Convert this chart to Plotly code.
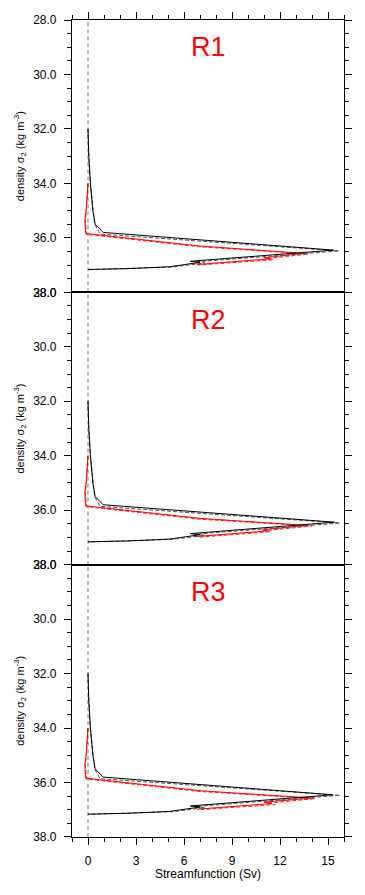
import plotly.graph_objects as go

# ---------------- data ----------------
panel_labels = ["R1", "R2", "R3"]

x_ticks = [0, 3, 6, 9, 12, 15]
y_ticks = [28.0, 30.0, 32.0, 34.0, 36.0, 38.0]

# R1
sig_r1_black_solid = [32.0, 33.0, 34.0, 35.0, 35.5, 35.8, 36.45, 36.58, 36.76, 36.86, 36.9, 37.06, 37.13, 37.16]
psi_r1_black_solid = [0.0, 0.05, 0.15, 0.3, 0.45, 0.95, 15.35, 12.5, 8.5, 6.4, 7.0, 5.1, 2.5, 0.0]
sig_r1_black_dash = [32.0, 33.0, 34.0, 35.0, 35.5, 35.86, 36.48, 36.88, 36.92, 37.07, 37.13, 37.17]
psi_r1_black_dash = [0.0, 0.05, 0.15, 0.3, 0.42, 0.75, 15.7, 6.7, 7.3, 5.3, 2.6, 0.0]
sig_r1_red_solid = [34.0, 34.5, 35.0, 35.35, 35.84, 36.3, 36.57, 36.73, 36.77, 36.8, 36.98]
psi_r1_red_solid = [0.0, -0.05, -0.12, -0.2, -0.15, 7.0, 13.5, 11.0, 11.4, 10.7, 6.8]
sig_r1_red_dash = [34.0, 34.5, 35.0, 35.35, 35.87, 36.33, 36.59, 36.76, 36.8, 36.83, 37.0]
psi_r1_red_dash = [0.0, -0.03, -0.1, -0.17, -0.1, 7.0, 13.8, 11.2, 11.6, 10.9, 6.9]

# R2
sig_r2_black_solid = [32.0, 33.0, 34.0, 35.0, 35.5, 35.8, 36.44, 36.58, 36.76, 36.86, 36.9, 37.06, 37.13, 37.16]
psi_r2_black_solid = [0.0, 0.05, 0.15, 0.3, 0.45, 0.95, 15.4, 12.5, 8.5, 6.4, 7.0, 5.1, 2.5, 0.0]
sig_r2_black_dash = [32.0, 33.0, 34.0, 35.0, 35.5, 35.86, 36.47, 36.88, 36.92, 37.07, 37.13, 37.17]
psi_r2_black_dash = [0.0, 0.05, 0.15, 0.3, 0.42, 0.75, 15.75, 6.7, 7.3, 5.3, 2.6, 0.0]
sig_r2_red_solid = [34.0, 34.5, 35.0, 35.35, 35.84, 36.3, 36.56, 36.72, 36.76, 36.79, 36.97]
psi_r2_red_solid = [0.0, -0.05, -0.12, -0.2, -0.15, 7.0, 13.7, 10.9, 11.2, 10.6, 6.7]
sig_r2_red_dash = [34.0, 34.5, 35.0, 35.35, 35.87, 36.33, 36.58, 36.75, 36.79, 36.82, 36.99]
psi_r2_red_dash = [0.0, -0.03, -0.1, -0.17, -0.1, 7.0, 14.0, 11.1, 11.4, 10.8, 6.9]

# R3
sig_r3_black_solid = [32.0, 33.0, 34.0, 35.0, 35.5, 35.8, 36.45, 36.58, 36.76, 36.86, 36.9, 37.06, 37.13, 37.16]
psi_r3_black_solid = [0.0, 0.05, 0.15, 0.3, 0.45, 0.95, 15.3, 12.5, 8.5, 6.4, 7.0, 5.1, 2.5, 0.0]
sig_r3_black_dash = [32.0, 33.0, 34.0, 35.0, 35.5, 35.86, 36.47, 36.88, 36.92, 37.07, 37.13, 37.17]
psi_r3_black_dash = [0.0, 0.05, 0.15, 0.3, 0.42, 0.75, 15.75, 6.7, 7.3, 5.3, 2.6, 0.0]
sig_r3_red_solid = [34.0, 34.5, 35.0, 35.35, 35.84, 36.3, 36.57, 36.72, 36.77, 36.8, 36.98]
psi_r3_red_solid = [0.0, -0.05, -0.12, -0.2, -0.15, 7.0, 14.0, 11.0, 11.5, 10.8, 6.8]
sig_r3_red_dash = [34.0, 34.5, 35.0, 35.35, 35.87, 36.33, 36.59, 36.76, 36.81, 36.84, 37.0]
psi_r3_red_dash = [0.0, -0.03, -0.1, -0.17, -0.1, 7.0, 14.2, 11.2, 11.7, 10.9, 6.9]

panels = [
    (sig_r1_black_solid, psi_r1_black_solid, sig_r1_black_dash, psi_r1_black_dash,
     sig_r1_red_solid, psi_r1_red_solid, sig_r1_red_dash, psi_r1_red_dash),
    (sig_r2_black_solid, psi_r2_black_solid, sig_r2_black_dash, psi_r2_black_dash,
     sig_r2_red_solid, psi_r2_red_solid, sig_r2_red_dash, psi_r2_red_dash),
    (sig_r3_black_solid, psi_r3_black_solid, sig_r3_black_dash, psi_r3_black_dash,
     sig_r3_red_solid, psi_r3_red_solid, sig_r3_red_dash, psi_r3_red_dash),
]

# ---------------- figure ----------------
FONT = "Liberation Sans, Arial, Helvetica, sans-serif"
fig = go.Figure()

domains = [[2/3, 1.0], [1/3, 2/3], [0.0, 1/3]]

for i, (sbs, pbs, sbd, pbd, srs, prs, srd, prd) in enumerate(panels):
    xa = "x" if i == 0 else f"x{i+1}"
    ya = "y" if i == 0 else f"y{i+1}"
    fig.add_trace(go.Scatter(x=prd, y=srd, mode="lines", xaxis=xa, yaxis=ya,
                             line=dict(color="#ff2020", width=1, dash="4px,2px"), showlegend=False))
    fig.add_trace(go.Scatter(x=prs, y=srs, mode="lines", xaxis=xa, yaxis=ya,
                             line=dict(color="#ff0000", width=1), showlegend=False))
    fig.add_trace(go.Scatter(x=pbd, y=sbd, mode="lines", xaxis=xa, yaxis=ya,
                             line=dict(color="#505050", width=1, dash="4px,2px"), showlegend=False))
    fig.add_trace(go.Scatter(x=pbs, y=sbs, mode="lines", xaxis=xa, yaxis=ya,
                             line=dict(color="#000000", width=1), showlegend=False))

    fig.add_shape(type="line", xref=xa, yref=f"{ya} domain", x0=0, x1=0, y0=0, y1=1,
                  line=dict(color="#222222", width=0.6, dash="4px,3px"))

    fig.add_annotation(text=panel_labels[i], xref=f"{xa} domain", yref=ya, x=0.5, y=29.0,
                       showarrow=False, font=dict(family=FONT, size=27, color="#ff0000"))

    xkw = dict(range=[-1, 16], tickvals=x_ticks, showline=True, linecolor="black", linewidth=1.2,
               mirror=True, showgrid=False, zeroline=False, anchor=ya, automargin=False,
               tickfont=dict(family=FONT, size=12, color="black"),
               ticklen=7, tickwidth=1, tickcolor="black")
    if i == 0:
        xkw.update(side="top", ticks="outside", showticklabels=False,
                   minor=dict(ticks="outside", dtick=1, tick0=0, ticklen=4, tickcolor="black"))
    elif i == 2:
        xkw.update(side="bottom", ticks="outside", showticklabels=True, ticklabelstandoff=5,
                   title=dict(text="Streamfunction (Sv)", font=dict(family=FONT, size=12, color="black"),
                              standoff=2),
                   minor=dict(ticks="outside", dtick=1, tick0=0, ticklen=4, tickcolor="black"))
    else:
        xkw.update(ticks="", showticklabels=False)

    ykw = dict(range=[38, 28], domain=domains[i], tickvals=y_ticks, tickformat=".1f",
               showline=True, linecolor="black", linewidth=1.2, mirror="ticks",
               ticks="outside", ticklen=7, tickwidth=1, tickcolor="black", ticklabelstandoff=5,
               minor=dict(ticks="outside", dtick=0.5, tick0=28, ticklen=4, tickcolor="black"),
               showgrid=False, zeroline=False, anchor=xa, automargin=False,
               tickfont=dict(family=FONT, size=12, color="black"),
               title=dict(text="density σ<sub>2</sub> (kg m<sup>-3</sup>)",
                          font=dict(family=FONT, size=11, color="black"), standoff=6))

    fig.layout[("xaxis" if i == 0 else f"xaxis{i+1}")] = xkw
    fig.layout[("yaxis" if i == 0 else f"yaxis{i+1}")] = ykw

# the page adds an 8px body margin, so the figure is sized/placed to compensate
fig.update_layout(
    width=357, height=887,
    margin=dict(l=64, r=21, t=12, b=58),
    paper_bgcolor="white", plot_bgcolor="white",
    showlegend=False,
)

fig.write_html("out.html")
